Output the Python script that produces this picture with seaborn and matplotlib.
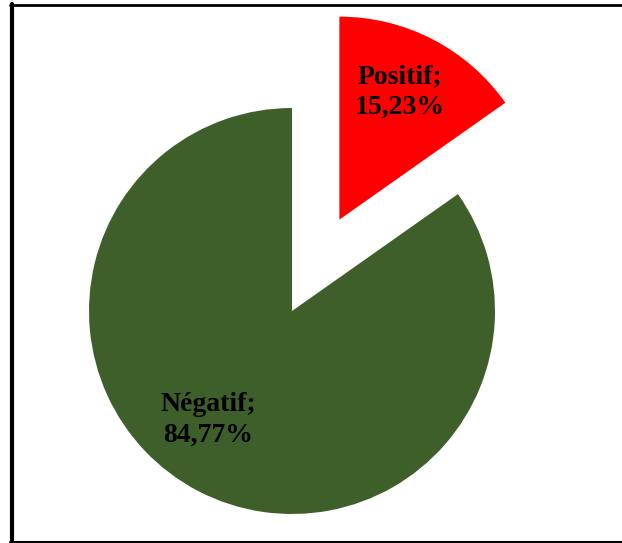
import matplotlib
matplotlib.use("Agg")
import matplotlib.pyplot as plt
from matplotlib.lines import Line2D
import seaborn as sns

categories = ["Positif", "Négatif"]
values = [15.23, 84.77]
value_labels = ["15,23%", "84,77%"]
colors = ["#FF0000", "#3F5F2A"]

sns.set_theme(style="white")
plt.rcParams["font.family"] = ["Liberation Serif", "DejaVu Serif"]

W, H = 622, 543
fig = plt.figure(figsize=(W / 100, H / 100), dpi=100)
ax = fig.add_axes([0, 0, 1, 1])

R = 203.0
cx, cy = 292.0, H - 311.0

wedges, texts = ax.pie(
    values,
    labels=[f"{c};\n{v}" for c, v in zip(categories, value_labels)],
    colors=sns.color_palette(colors),
    startangle=90,
    counterclock=False,
    explode=[0.507, 0.0],
    radius=1.0,
    labeldistance=0.7,
    wedgeprops=dict(linewidth=0),
    textprops=dict(fontsize=20, fontweight="bold", color="black",
                   ha="center", va="center", linespacing=1.3),
)
# adjust label placement
texts[1].set_position(((208 - cx) / R, ((H - 420) - cy) / R))
texts[0].set_position(((400 - cx) / R, ((H - 92) - cy) / R))
for t in texts:
    t.set_ha("center")
    t.set_va("center")

ax.set_xlim((0 - cx) / R, (W - cx) / R)
ax.set_ylim((0 - cy) / R, (H - cy) / R)
ax.set_aspect("equal")
ax.axis("off")

# frame lines
fig.add_artist(Line2D([12 / W, 12 / W], [1 - 4 / H, 1 - 542 / H], color="black",
                      linewidth=3.0, transform=fig.transFigure))
fig.add_artist(Line2D([10 / W, 1], [1 - 5 / H, 1 - 5 / H], color="black",
                      linewidth=2.0, transform=fig.transFigure))
fig.add_artist(Line2D([10 / W, 1], [1 - 541.5 / H, 1 - 541.5 / H], color="black",
                      linewidth=1.5, transform=fig.transFigure))

fig.savefig("out.png", dpi=100, facecolor="white")
